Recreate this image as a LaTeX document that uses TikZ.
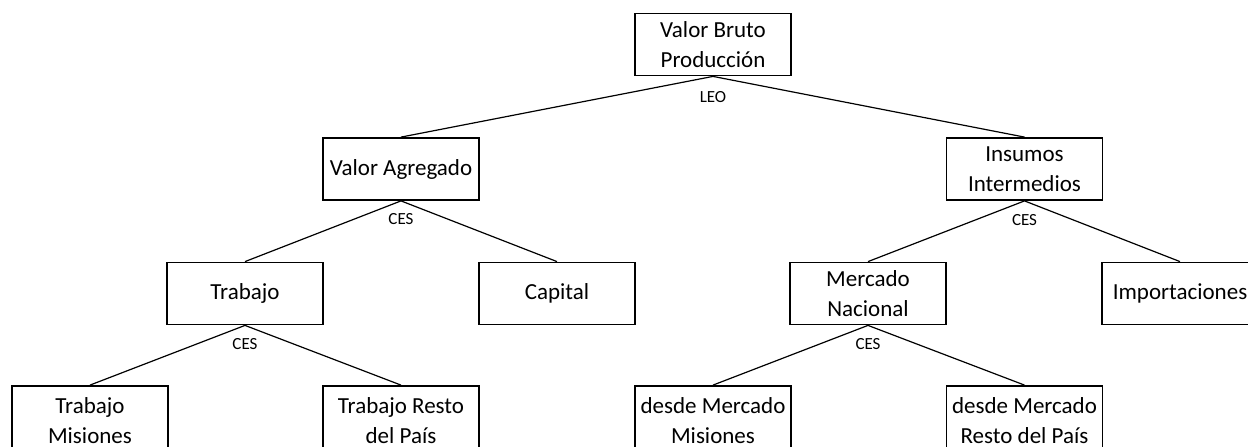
\documentclass[tikz,border=0pt]{standalone}
\usepackage{fontspec}
\setmainfont{Carlito}
\begin{document}
\begin{tikzpicture}[x=1pt,y=-1pt,
  box/.style={draw,line width=1.8pt,minimum width=156pt,minimum height=62pt,inner sep=0pt,align=center,font=\fontsize{23}{30}\selectfont},
  tall/.style={box,minimum height=70pt},
  conn/.style={line width=1.2pt},
  lab/.style={font=\fontsize{17}{20}\selectfont,inner sep=0pt}]
\useasboundingbox (0,0) rectangle (1248,447);
\clip (0,0) rectangle (1248,447);
\fill[white] (0,0) rectangle (1248,447);
\node[box] (vb) at (713,44.5) {Valor Bruto\\Producción};
\node[box] (va) at (401,169) {Valor Agregado};
\node[box] (ii) at (1024.5,169) {Insumos\\Intermedios};
\node[box] (tr) at (245,293.5) {Trabajo};
\node[box] (ca) at (557,293.5) {Capital};
\node[box] (mn) at (868,293.5) {Mercado\\Nacional};
\node[box] (im) at (1180,293.5) {Importaciones};
\node[tall] (tm) at (90,421) {Trabajo\\Misiones};
\node[tall] (trp) at (401,421) {Trabajo Resto\\del País};
\node[tall] (dm) at (713,421) {desde Mercado\\Misiones};
\node[tall] (dr) at (1024.5,421) {desde Mercado\\Resto del País};
\node[lab] (l1) at (713,97) {LEO};
\node[lab] (l2) at (401,219) {CES};
\node[lab] (l3) at (1024.5,220) {CES};
\node[lab] (l4) at (245,344) {CES};
\node[lab] (l5) at (868,344) {CES};
\draw[conn] (vb.south) -- (va.north);
\draw[conn] (vb.south) -- (ii.north);
\draw[conn] (va.south) -- (tr.north);
\draw[conn] (va.south) -- (ca.north);
\draw[conn] (ii.south) -- (mn.north);
\draw[conn] (ii.south) -- (im.north);
\draw[conn] (tr.south) -- (tm.north);
\draw[conn] (tr.south) -- (trp.north);
\draw[conn] (mn.south) -- (dm.north);
\draw[conn] (mn.south) -- (dr.north);
\end{tikzpicture}
\end{document}
